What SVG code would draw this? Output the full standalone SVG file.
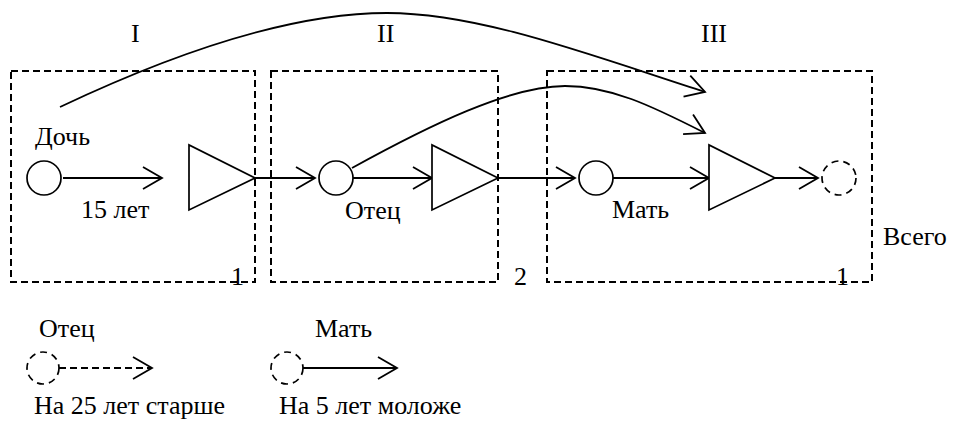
<svg xmlns="http://www.w3.org/2000/svg" width="955" height="424" viewBox="0 0 955 424">
<defs>
<style>
text{font-family:'Liberation Serif','Times New Roman',serif;font-size:26px;fill:#000}
.box{fill:none;stroke:#000;stroke-width:2;stroke-dasharray:7 4}
.n{fill:#fff;stroke:#000;stroke-width:1.7}
.dn{fill:none;stroke:#000;stroke-width:1.7;stroke-dasharray:7 5}
.c{fill:none;stroke:#000;stroke-width:1.8}
.cd{fill:none;stroke:#000;stroke-width:1.8;stroke-dasharray:7 4}
</style>
<marker id="ah" markerUnits="userSpaceOnUse" markerWidth="24" markerHeight="26" viewBox="-21 -13 24 26" refX="0" refY="0" orient="auto">
<path d="M-19,-11 L0,0 L-19,11" fill="none" stroke="#000" stroke-width="1.8"/>
</marker>
</defs>
<g id="stages">
<rect class="box" x="11" y="71" width="244" height="211"/>
<rect class="box" x="271" y="71" width="227" height="211"/>
<rect class="box" x="547" y="71" width="325" height="211"/>
<text x="131" y="42">I</text>
<text x="377" y="42">II</text>
<text x="701" y="42">III</text>
<text x="231" y="285">1</text>
<text x="514" y="285">2</text>
<text x="836" y="285">1</text>
<text x="883" y="245">Всего</text>
</g>
<g id="connectors">
<path class="c" d="M60,107 C170,55 290,13 387,13 C480,13 590,55 705,92" marker-end="url(#ah)"/>
<path class="c" d="M352,168 C430,125 510,86 565,86 C610,86 650,105 705,133" marker-end="url(#ah)"/>
<line class="c" x1="63" y1="178" x2="162" y2="178" marker-end="url(#ah)"/>
<line class="c" x1="255" y1="178" x2="315" y2="178" marker-end="url(#ah)"/>
<line class="c" x1="353" y1="178" x2="432" y2="178" marker-end="url(#ah)"/>
<line class="c" x1="498" y1="178" x2="575" y2="178" marker-end="url(#ah)"/>
<line class="c" x1="612" y1="178" x2="709" y2="178" marker-end="url(#ah)"/>
<line class="c" x1="775" y1="178" x2="818" y2="178" marker-end="url(#ah)"/>
</g>
<g id="daughter">
<circle class="n" cx="44" cy="178" r="17"/>
<text x="35" y="145">Дочь</text>
<text x="81" y="218">15 лет</text>
</g>
<g id="tri1"><polygon class="n" points="189,145 189,210 255,178"/></g>
<g id="father">
<circle class="n" cx="336" cy="178" r="17"/>
<text x="345" y="219">Отец</text>
</g>
<g id="tri2"><polygon class="n" points="432,145 432,210 498,178"/></g>
<g id="mother">
<circle class="n" cx="596" cy="178" r="17"/>
<text x="612" y="218">Мать</text>
</g>
<g id="tri3"><polygon class="n" points="709,145 709,210 775,178"/></g>
<g id="total"><circle class="dn" cx="839" cy="178" r="17"/></g>
<g id="legend-father">
<text x="39" y="337">Отец</text>
<circle class="dn" cx="43" cy="368" r="16"/>
<line class="cd" x1="59" y1="368" x2="152" y2="368" marker-end="url(#ah)"/>
<text x="34" y="414">На 25 лет старше</text>
</g>
<g id="legend-mother">
<text x="315" y="337">Мать</text>
<circle class="dn" cx="287" cy="368" r="16"/>
<line class="c" x1="303" y1="368" x2="397" y2="368" marker-end="url(#ah)"/>
<text x="279" y="414">На 5 лет моложе</text>
</g>
</svg>
